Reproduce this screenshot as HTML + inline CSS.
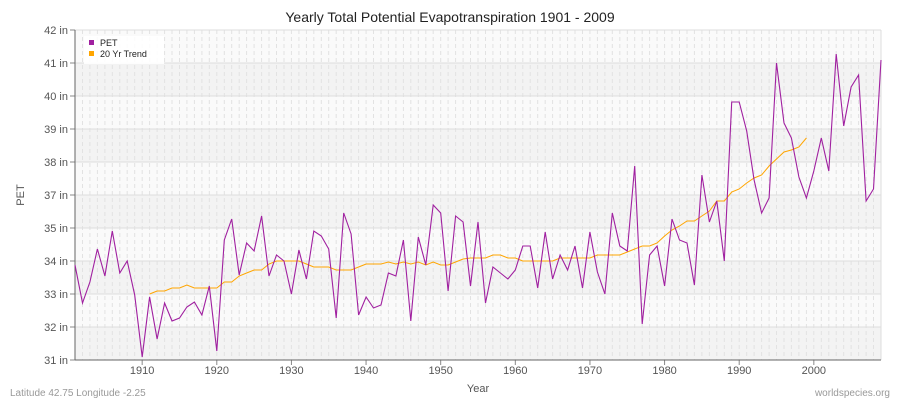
<!DOCTYPE html>
<html><head><meta charset="utf-8"><style>
body{margin:0;background:#fff;font-family:"Liberation Sans",sans-serif}
</style></head><body>
<svg id="s" width="900" height="400" xmlns="http://www.w3.org/2000/svg" font-family="Liberation Sans, sans-serif">
<rect width="900" height="400" fill="#fff"/>
<text x="450" y="22" text-anchor="middle" font-size="14" fill="#222">Yearly Total Potential Evapotranspiration 1901 - 2009</text>
<g id="g"></g>
<text x="24" y="195" font-size="11" fill="#555" text-anchor="middle" transform="rotate(-90 24 195)">PET</text>
<text x="478" y="392" font-size="11" fill="#555" text-anchor="middle">Year</text>
<text x="10" y="396" font-size="10" fill="#999">Latitude 42.75 Longitude -2.25</text>
<text x="890" y="396" font-size="10" fill="#999" text-anchor="end">worldspecies.org</text>
<rect x="84" y="36" width="80" height="28" fill="#fff" opacity="0.9"/>
<rect x="89" y="40" width="5" height="5" fill="#a020a0"/>
<text x="100" y="46" font-size="9" fill="#222">PET</text>
<rect x="89" y="51" width="5" height="5" fill="#ffa500"/>
<text x="100" y="57" font-size="9" fill="#222">20 Yr Trend</text>
</svg>
<script>
var pet=[265,303,282,249,276,231,273,261,295,357,297,339,303,321,318,307,302,315,286,351,240,219,275,243,251,216,276,255,261,294,250,279,231,236,249,318,213,234,315,297,308,305,273,276,240,321,237,265,205,213,291,216,222,286,222,303,267,273,279,270,246,246,288,232,279,255,270,246,288,232,272,294,213,246,251,166,324,255,246,286,219,240,243,285,175,222,201,261,102,102,131,180,213,198,63,123,138,177,198,171,138,171,54,126,87,75,201,189,60];
var tr=[294,291,291,288,288,285,288,288,288,288,282,282,276,273,270,270,264,261,261,261,261,264,267,267,267,270,270,270,267,264,264,264,262,264,262,264,262,265,262,265,265,262,259,258,258,258,255,255,258,258,261,261,261,261,261,258,258,258,258,258,255,255,255,255,252,249,246,246,243,236,230,226,221,221,216,211,201,201,192,189,183,178,175,166,159,152,150,147,138];
var labs=[42,41,40,39,38,37,35,34,33,32,31];
function X(y){return 75+(y-1901)*806/108}
var h='';
for(var i=0;i<10;i++){var y0=30+i*33;h+='<rect x="75" y="'+y0+'" width="806" height="33" fill="'+(i%2?'#f3f3f3':'#fafafa')+'"/>';}
for(var yr=1901;yr<=2009;yr++){var x=X(yr).toFixed(1);h+='<line x1="'+x+'" y1="30" x2="'+x+'" y2="360" stroke="#e2e2e2" stroke-dasharray="4,3"/>';}
for(var i=0;i<=10;i++){var y=30+i*33;h+='<line x1="75" y1="'+y+'" x2="881" y2="'+y+'" stroke="#dedede"/>';h+='<text x="68" y="'+(y+4)+'" font-size="11" fill="#555" text-anchor="end">'+labs[i]+' in</text>';h+='<line x1="70" y1="'+y+'" x2="75" y2="'+y+'" stroke="#888"/>';}
for(var yr=1910;yr<=2000;yr+=10){var x=X(yr);h+='<text x="'+x+'" y="374" font-size="11" fill="#555" text-anchor="middle">'+yr+'</text>';h+='<line x1="'+x+'" y1="360" x2="'+x+'" y2="365" stroke="#888"/>';}
h+='<line x1="881" y1="30" x2="881" y2="360" stroke="#ddd"/>';
h+='<line x1="75" y1="30" x2="75" y2="360" stroke="#666"/><line x1="75" y1="360" x2="881" y2="360" stroke="#666"/>';
var p=pet.map(function(v,i){return X(1901+i).toFixed(1)+','+v}).join(' ');
var t=tr.map(function(v,i){return X(1911+i).toFixed(1)+','+v}).join(' ');
h+='<polyline points="'+t+'" fill="none" stroke="#ffa500" stroke-width="1"/>';
h+='<polyline points="'+p+'" fill="none" stroke="#a020a0" stroke-width="1.1"/>';
document.getElementById('g').innerHTML=h;
</script>
</body></html>
